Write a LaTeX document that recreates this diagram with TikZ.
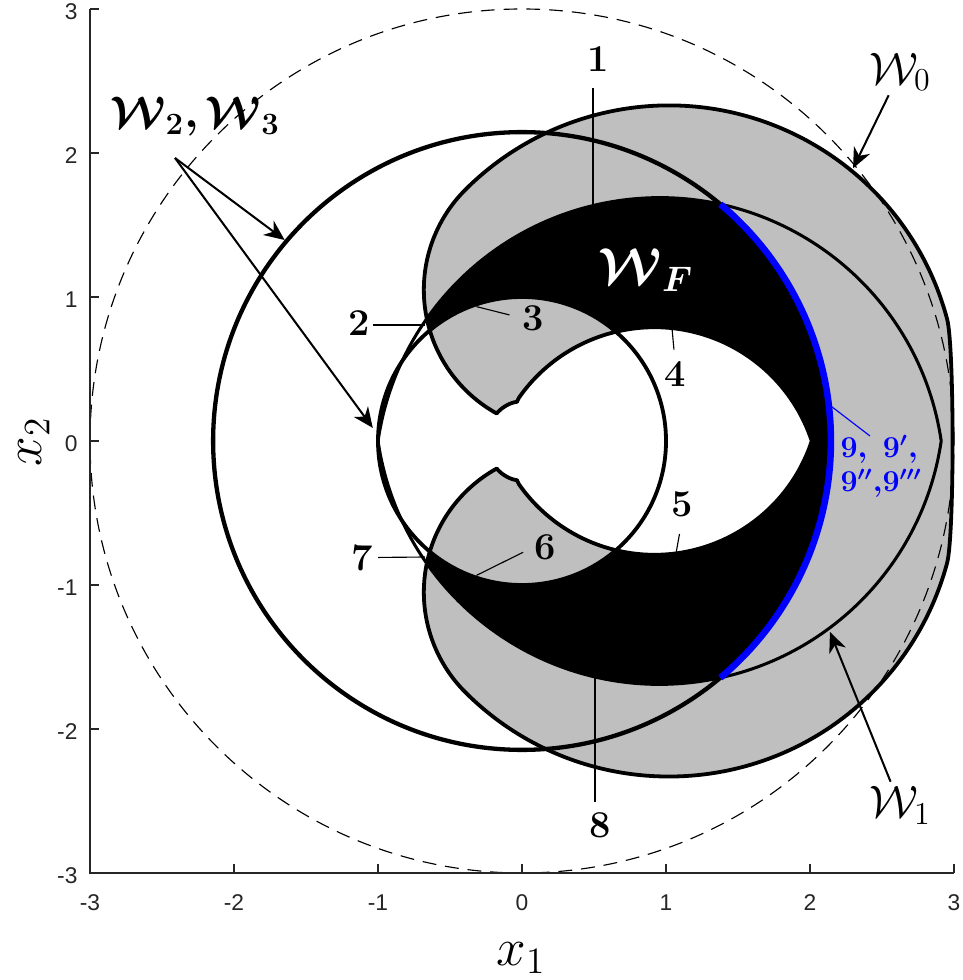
\RequirePackage{fix-cm}
\documentclass[tikz,border=0pt]{standalone}
\usepackage{amsmath}
\usepackage{bm}
\usepackage{fontspec}
\newfontfamily\tickfont{Liberation Sans}
\usetikzlibrary{arrows.meta,calc}
\definecolor{wgray}{RGB}{191,191,191}
\definecolor{axcol}{RGB}{38,38,38}
\definecolor{pureblue}{RGB}{0,0,255}
\def\pathWzero{(2.95185,0.84764) arc[start angle=15,end angle=135,radius=2]
 arc[start angle=135,end angle=241,radius=0.98177]
 .. controls (-0.135,0.24) and (-0.075,0.268) .. (-0.035,0.272) -- (-0.02202,0.29961)
 arc[start angle=145,end angle=18.245,radius=1.15]
 arc[start angle=-18.245,end angle=-145,radius=1.15]
 -- (-0.035,-0.272) .. controls (-0.075,-0.268) and (-0.135,-0.24) .. (-0.17597,-0.19133)
 arc[start angle=119,end angle=225,radius=0.98177]
 arc[start angle=225,end angle=345,radius=2]
 .. controls (3.0027,-0.658) and (3.0027,0.658) .. (2.95185,0.84764) -- cycle}
\def\pathWone{(2.911,0) arc[start angle=8.338,end angle=171.662,radius=1.9764]
 arc[start angle=188.338,end angle=351.662,radius=1.9764] -- cycle}
\begin{document}
\begin{tikzpicture}[x=2cm,y=2cm,
  leader/.style={line width=0.45pt, draw=black},
  bleader/.style={line width=0.45pt, draw=pureblue},
  arr/.style={line width=0.8pt, -{Stealth[length=8pt,width=7pt,inset=2.5pt]}},
  numlab/.style={inner sep=0pt, font=\fontsize{15}{18}\selectfont\bfseries},
  wlab/.style={inner sep=1.5pt, font=\fontsize{18}{20}\selectfont},
  ticklab/.style={inner sep=0pt, text=axcol, font=\fontsize{9}{10}\selectfont\tickfont},
  axline/.style={line width=0.5pt, draw=axcol},
  axlab/.style={inner sep=0pt, font=\fontsize{21}{24}\selectfont},
  ]
\useasboundingbox (-3.625,-3.743) rectangle (3.0556,3.0625);

% regions
\fill[wgray] \pathWzero;
\begin{scope}
  \clip \pathWzero;
  \clip \pathWone;
  \fill[black,even odd rule] (0,0) circle (2.145) (0,0) circle (1);
\end{scope}

% dashed circle
\draw[black, line width=0.45pt, dash pattern=on 5.5pt off 3.5pt] (0,0) circle (3);

% boundaries
\draw[line width=1.5pt, line join=round] \pathWzero;
\draw[line width=1.2pt, line join=round] \pathWone;
\draw[line width=1.7pt] (0,0) circle (2.145);
\draw[line width=1.5pt] (0,0) circle (1);
\draw[pureblue, line width=2.6pt] (-50.04:2.145) arc[start angle=-50.04,end angle=50.04,radius=2.145];

% axes
\draw[axline] (-3,3) -- (-3,-3) -- (3,-3);
\foreach \k in {-3,...,3} {
  \draw[axline] (-3,\k) -- ++(0.0625,0);
  \draw[axline] (\k,-3) -- ++(0,0.0625);
  \node[ticklab, anchor=east] (yt\k) at (-3.0833,\k-0.02) {\k};
  \node[ticklab] (xt\k) at (\k,-3.2083) {\k};
}
\node[axlab] (xlab) at (-0.007,-3.59) {$x_1$};
\node[axlab, rotate=90] (ylab) at (-3.39,-0.007) {$x_2$};

% leader target points
\coordinate (p1) at (0.493,1.635);
\coordinate (p8) at (0.507,-1.6376);
\coordinate (p2) at (-0.6736,0.8056);
\coordinate (p7) at (-0.6736,-0.8056);
\coordinate (p3) at (108.7:0.985);
\coordinate (p6) at (-108.7:0.985);
\coordinate (p4) at (1.0417,0.7835);
\coordinate (p5) at (1.0694,-0.78025);
\coordinate (p9) at (6.3:2.165);
\coordinate (q9) at (2.4167,0.0347);

% number labels
\node[numlab, anchor=south] (l1) at (0.528,2.5625) {1};
\node[numlab, anchor=north] (l8) at (0.542,-2.576) {8};
\node[numlab, anchor=east] (l2) at (-1.0556,0.8194) {2};
\node[numlab, anchor=east] (l7) at (-1.0347,-0.809) {7};
\node[numlab] (l3) at (0.0764,0.854) {3};
\node[numlab] (l6) at (0.1597,-0.736) {6};
\node[numlab] (l4) at (1.0625,0.4618) {4};
\node[numlab] (l5) at (1.1146,-0.4375) {5};
\node[inner sep=0pt, anchor=north west, align=left, text=pureblue,
      font=\fontsize{12}{13.4}\selectfont] (l9) at (2.2083,0.0417)
      {{\boldmath$9,\;9',$}\\{\boldmath$9''{,}9'''$}};

\draw[leader, shorten <=6.3pt] (l1.south -| p1) -- (p1);
\draw[leader, shorten <=4pt] (l8.north -| p8) -- (p8);
\draw[leader, shorten <=1pt] (l2.east |- p2) -- (p2);
\draw[leader, shorten <=2pt] (l7.east) -- (p7);
\draw[leader, shorten <=5pt] (l3.west) -- (p3);
\draw[leader, shorten <=4.7pt] (l6.west) -- (p6);
\draw[leader, shorten <=4.7pt] (l4.north) -- (p4);
\draw[leader, shorten <=6.7pt] (l5.south) -- (p5);
\draw[bleader] (q9) -- (p9);

% W labels and arrows
\node[wlab] (lW0) at (2.625,2.5625) {$\mathcal{W}_0$};
\node[wlab] (lW1) at (2.625,-2.528) {$\mathcal{W}_1$};
\node[wlab, font=\fontsize{17.5}{20}\selectfont] (lW23) at (-2.27,2.25) {$\bm{\mathcal{W}_2,\mathcal{W}_3}$};
\node[wlab, text=white, font=\fontsize{20}{22}\selectfont] (lWF) at (0.861,1.1875) {$\bm{\mathcal{W}_F}$};

\coordinate (t0) at (2.2989,1.8937);
\coordinate (t1) at (2.1385,-1.326);
\coordinate (s23) at (-2.4097,1.9653);
\coordinate (ta) at (139.74:2.16);
\coordinate (tb) at (175:1.04);
\draw[arr] (lW0) -- (t0);
\draw[arr] (lW1) -- (t1);
\draw[arr] (s23) -- (ta);
\draw[arr] (s23) -- (tb);
\end{tikzpicture}
\end{document}
